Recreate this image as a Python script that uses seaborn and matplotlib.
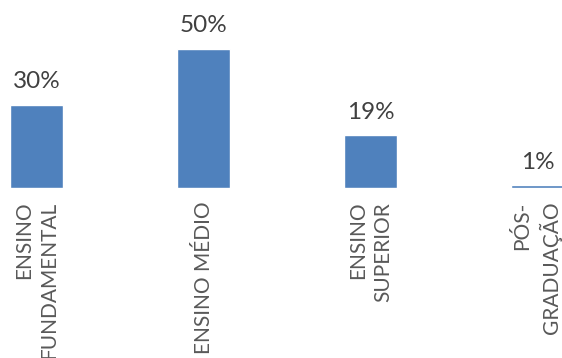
import matplotlib
matplotlib.use('Agg')
import matplotlib.pyplot as plt
import seaborn as sns
import pandas as pd

# dados
categorias = ['ENSINO\nFUNDAMENTAL', 'ENSINO MÉDIO', 'ENSINO\nSUPERIOR', 'PÓS-\nGRADUAÇÃO']
valores = [30, 50, 19, 1]

sns.set_style('white')
plt.rcParams['font.family'] = ['Lato', 'DejaVu Sans']

df = pd.DataFrame({'cat': categorias, 'pct': valores})

fig = plt.figure(figsize=(5.62, 3.58), dpi=100)
ax = fig.add_axes([0, 0.475, 1, 0.525])
sns.barplot(df, x='cat', y='pct', color='#4F81BD', saturation=1, width=0.32, ax=ax)

ax.set_xlim(-0.219, 3.147)
ax.set_ylim(0, 67.6)
ax.bar_label(ax.containers[0], labels=[f'{v}%' for v in valores],
             padding=9, fontsize=17.5, color='#404040')

ax.set_xlabel('')
ax.set_ylabel('')
ax.set_yticks([])
ax.tick_params(axis='x', length=0, pad=10)
for lbl in ax.get_xticklabels():
    lbl.set_rotation(90)
    lbl.set_ha('center')
    lbl.set_va('top')
    lbl.set_multialignment('right')
    lbl.set_fontsize(15)
    lbl.set_color('#595959')
    lbl.set_linespacing(1.35)
sns.despine(ax=ax, left=True, bottom=True)

fig.savefig('out.png', dpi=100)
